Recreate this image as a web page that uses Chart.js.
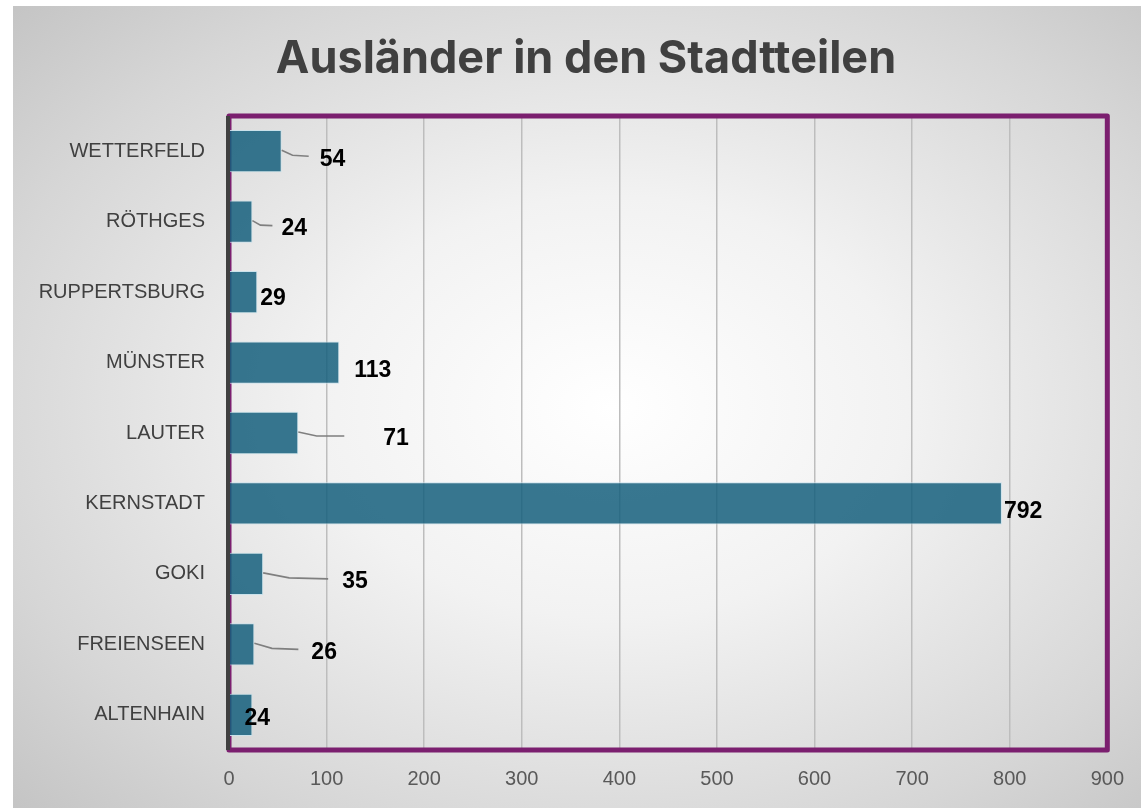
<!DOCTYPE html>
<html>
<head>
<meta charset="utf-8">
<script src="https://cdn.jsdelivr.net/npm/chart.js@4.4.1/dist/chart.umd.min.js"></script>
<style>
  html, body { margin: 0; padding: 0; background: #fff; }
  #wrap {
    position: absolute; left: 13px; top: 6px; width: 1128px; height: 802px;
    background: radial-gradient(ellipse 75% 75% at 53% 50%, #ffffff 0%, #f2f2f2 35%, #d6d6d6 75%, #c2c2c2 100%);
  }
</style>
</head>
<body>
<div id="wrap"><canvas id="chart" width="1128" height="802"></canvas></div>
<script>
// Daten
const titel = 'Ausländer in den Stadtteilen';
const stadtteile = ['WETTERFELD', 'RÖTHGES', 'RUPPERTSBURG', 'MÜNSTER', 'LAUTER', 'KERNSTADT', 'GOKI', 'FREIENSEEN', 'ALTENHAIN'];
const auslaender = [54, 24, 29, 113, 71, 792, 35, 26, 24];
const xTicks = [0, 100, 200, 300, 400, 500, 600, 700, 800, 900];

// Lage der Beschriftungen (wie in Excel verschoben), Pixel relativ zum Balkenende
const labelDx = [38, 29, 3, 15, 85, 2, 79, 57, -8];
const labelDy = [8, 7, 7, 8, 6, 8, 8, 8, 4];
const leaderLen = [27, 20, 0, 0, 46, 0, 65, 44, 0];

// Titel selbst zeichnen, damit er wie im Original leicht rechts der Mitte sitzt
const titlePlugin = {
  id: 'titlePlugin',
  afterDraw(chart) {
    const { ctx } = chart;
    ctx.save();
    ctx.font = 'bold 45px Inter, "Noto Sans", sans-serif';
    ctx.fillStyle = '#404040';
    ctx.textAlign = 'center';
    ctx.textBaseline = 'middle';
    ctx.fillText(titel, 573, 53);
    ctx.restore();
  }
};

const purpleFrame = {
  id: 'purpleFrame',
  beforeDatasetsDraw(chart) {
    const { ctx, chartArea: a } = chart;
    ctx.save();
    ctx.strokeStyle = '#7b1f6f';
    ctx.lineWidth = 5;
    ctx.lineJoin = 'round';
    ctx.strokeRect(a.left, a.top, a.right - a.left, a.bottom - a.top);
    ctx.restore();
  },
  afterDatasetsDraw(chart) {
    const { ctx, chartArea: a } = chart;
    ctx.save();
    ctx.strokeStyle = '#404040';
    ctx.lineWidth = 4;
    ctx.beginPath();
    ctx.moveTo(a.left - 1, a.top);
    ctx.lineTo(a.left - 1, a.bottom);
    ctx.stroke();
    ctx.restore();
  }
};

const valueLabels = {
  id: 'valueLabels',
  afterDatasetsDraw(chart) {
    const { ctx } = chart;
    const meta = chart.getDatasetMeta(0);
    ctx.save();
    ctx.font = 'bold 23px "Liberation Sans", Arial, sans-serif';
    ctx.fillStyle = '#000';
    ctx.textBaseline = 'middle';
    ctx.textAlign = 'left';
    meta.data.forEach((bar, i) => {
      const xEnd = bar.x;
      const y = bar.y;
      if (leaderLen[i] > 0) {
        ctx.strokeStyle = '#7f7f7f';
        ctx.lineWidth = 1.6;
        ctx.beginPath();
        ctx.moveTo(xEnd, y - 1);
        ctx.lineTo(xEnd + leaderLen[i] * 0.4, y + labelDy[i] * 0.5);
        ctx.lineTo(xEnd + leaderLen[i], y + labelDy[i] - 3);
        ctx.stroke();
      }
      ctx.fillText(String(auslaender[i]), xEnd + labelDx[i], y + labelDy[i]);
    });
    ctx.restore();
  }
};

new Chart(document.getElementById('chart'), {
  type: 'bar',
  data: {
    labels: stadtteile,
    datasets: [{
      data: auslaender,
      backgroundColor: 'rgba(21,95,125,0.85)',
      borderColor: 'rgba(200,225,235,0.9)',
      borderWidth: 1,
      barPercentage: 0.6,
      categoryPercentage: 1
    }]
  },
  options: {
    indexAxis: 'y',
    responsive: false,
    animation: false,
    layout: { padding: { left: 10, right: 22, top: 110, bottom: 0 } },
    plugins: {
      legend: { display: false },
      tooltip: { enabled: false },
      title: { display: false }
    },
    scales: {
      x: {
        min: 0,
        max: 900,
        afterBuildTicks(scale) { scale.ticks = xTicks.map(v => ({ value: v })); },
        grid: { color: '#bdbdbd', lineWidth: 1.5, drawTicks: false },
        border: { display: false },
        ticks: {
          color: '#595959',
          padding: 17,
          font: { family: '"Liberation Sans", Arial, sans-serif', size: 20 }
        }
      },
      y: {
        afterFit(scale) { scale.width = 206; },
        grid: { display: false },
        border: { display: false },
        ticks: {
          color: '#404040',
          padding: 16,
          font: { family: '"Liberation Sans", Arial, sans-serif', size: 20 }
        }
      }
    }
  },
  plugins: [purpleFrame, valueLabels, titlePlugin]
});
</script>
</body>
</html>
